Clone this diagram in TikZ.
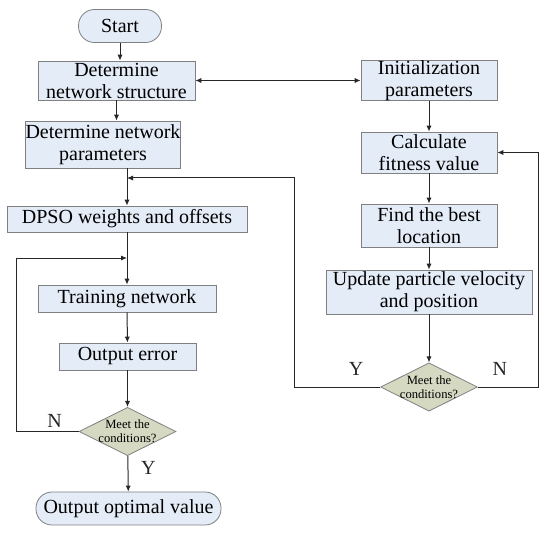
\documentclass[tikz,border=0pt]{standalone}
\usepackage{fontspec}
\setmainfont{Liberation Serif}
\usepackage{tikz}
\usetikzlibrary{shapes.geometric, arrows.meta, positioning, calc}

\definecolor{boxfill}{RGB}{228,236,247}
\definecolor{judgefill}{RGB}{213,217,194}
\definecolor{edgegray}{RGB}{128,128,128}

\begin{document}
\begin{tikzpicture}[
        x=0.5pt, y=-0.5pt,
        font=\rmfamily\fontsize{10}{11}\selectfont,
        box/.style={rectangle, draw=edgegray, fill=boxfill, inner sep=0pt, align=center},
        term/.style={box, rounded corners=8pt},
        judge/.style={diamond, draw=edgegray, fill=judgefill, aspect=2.0, inner sep=-0.6pt, align=center, font=\rmfamily\fontsize{6.3}{7}\selectfont},
        arrowline/.style={-{Latex[length=3pt, width=2.6pt]}, line width=0.5pt, black!85},
        plainline/.style={line width=0.5pt, black!85}
    ]
        \useasboundingbox (0,0) rectangle (550,534);
        \node[term, minimum width=41.5pt, minimum height=16.5pt] (start) at (120,26) {Start};
        \node[box, minimum width=78.5pt, minimum height=19.5pt] (dns) at (116.5,80.5) {Determine\\network structure};
        \node[box, minimum width=65pt, minimum height=23.5pt] (dnp) at (103,144.5) {Determine network\\parameters};
        \node[box, minimum width=120pt, minimum height=13pt] (dpso) at (127,219) {DPSO weights and offsets};
        \node[box, minimum width=89pt, minimum height=13.5pt] (train) at (127,298.5) {Training network};
        \node[box, minimum width=68.5pt, minimum height=13.5pt] (oerr) at (127.5,356.5) {Output error};
        \node[judge] (judge1) at (127.5,431.5) {Meet the\\conditions?};
        \node[term, minimum width=92.5pt, minimum height=16.5pt] (out) at (128.5,508.5) {Output optimal value};

        \node[box, minimum width=68pt, minimum height=19.5pt] (init) at (429,80.5) {Initialization\\parameters};
        \node[box, minimum width=68pt, minimum height=20.5pt] (calc) at (429,152.5) {Calculate\\fitness value};
        \node[box, minimum width=68pt, minimum height=21.5pt] (find) at (429,225.5) {Find the best\\location};
        \node[box, minimum width=103pt, minimum height=22pt] (upd) at (429,292) {Update particle velocity\\and position};
        \node[judge] (judge2) at (429,387) {Meet the\\conditions?};

        \coordinate (join1) at (127,258);
        \coordinate (join2) at (127,178);

        \draw[arrowline] (start.south) -- (start.south |- dns.north);
        \draw[arrowline] (dns.south) -- (dns.south |- dnp.north);
        \draw[arrowline] (dpso.north |- dnp.south) -- (dpso.north);
        \draw[arrowline] (dpso) -- (train);
        \draw[arrowline] (train) -- (oerr);
        \draw[arrowline] (oerr) -- (judge1);
        \draw[arrowline] (judge1) -- node[right=3pt, pos=0.35] {Y} (out);
        \draw[arrowline] (judge1.west) -- node[above=-1.5pt, pos=0.39] {N} ++(-62,0) |- (join1);
        \draw[{Latex[length=3pt, width=2.6pt]}-{Latex[length=3pt, width=2.6pt]}, line width=0.5pt, black!85] (dns.east) -- (init.west);

        \draw[arrowline] (init) -- (calc);
        \draw[arrowline] (calc) -- (find);
        \draw[arrowline] (find) -- (upd);
        \draw[arrowline] (upd) -- (judge2);
        \draw[arrowline] (judge2.west) -- node[above=2pt, pos=0.28] {Y} ++(-86,0) |- (join2);
        \draw[arrowline] (judge2.east) -- node[above=2pt, pos=0.36] {N} ++(61,0) |- (calc.east);
    \end{tikzpicture}
\end{document}
